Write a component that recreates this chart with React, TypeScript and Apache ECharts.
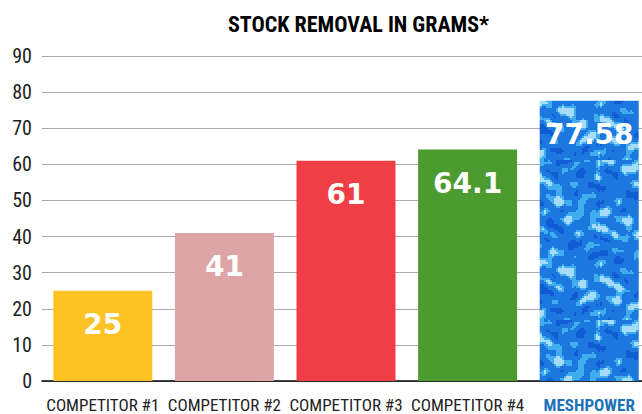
import React, { useEffect, useRef } from "react";
import * as echarts from "echarts";

const categories = ["COMPETITOR #1", "COMPETITOR #2", "COMPETITOR #3", "COMPETITOR #4", "MESHPOWER"];
const values = [25, 41, 61, 64.1, 77.58];
const labels = ["25", "41", "61", "64.1", "77.58"];
const barColors = ["#FDC325", "#DDA5A5", "#EF3E45", "#4B9B30"];
const yTicks = { min: 0, max: 90, interval: 10 };

const COND = "'Roboto Condensed', 'Open Sans Condensed', sans-serif";

function makeTexture(): HTMLCanvasElement {
  const c = document.createElement("canvas");
  c.width = 120;
  c.height = 160;
  const ctx = c.getContext("2d")!;
  ctx.fillStyle = "#1C78DE";
  ctx.fillRect(0, 0, 120, 160);
  for (let y = 0; y < 160; y += 2) {
    for (let x = 0; x < 120; x += 2) {
      const v =
        Math.sin(x * 0.21 + Math.sin(y * 0.13) * 2.5) +
        Math.sin(y * 0.37 + Math.cos(x * 0.11) * 1.7) * 0.9 +
        Math.sin((x * 0.7 - y) * 0.09) * 0.8 +
        Math.cos(x * 0.53 + y * 0.07) * 0.4;
      if (v > 1.6) {
        ctx.fillStyle = "rgba(200,245,255,0.8)";
        ctx.fillRect(x, y, 2, 2);
      } else if (v > 0.7) {
        ctx.fillStyle = "rgba(80,195,245,0.7)";
        ctx.fillRect(x, y, 2, 2);
      } else if (v < -1.6) {
        ctx.fillStyle = "rgba(15,85,210,0.8)";
        ctx.fillRect(x, y, 2, 2);
      }
    }
  }
  return c;
}

export default function App() {
  const ref = useRef<HTMLDivElement>(null);
  useEffect(() => {
    if (!ref.current) return;
    const chart = echarts.init(ref.current, null, { renderer: "svg" });
    const tex = makeTexture();
    const data = values.map((v, i) => ({
      value: v,
      itemStyle: {
        color: i < barColors.length ? barColors[i] : { image: tex, repeat: "repeat" },
      },
    }));
    chart.setOption({
      animation: false,
      title: {
        text: "STOCK REMOVAL IN GRAMS*",
        left: 223,
        top: 8,
        textStyle: {
          fontFamily: COND,
          fontWeight: "bold",
          fontSize: 22,
          color: "#000",
        },
      },
      grid: { left: 42, right: 10, top: 56, bottom: 33, containLabel: false },
      xAxis: {
        type: "category",
        data: categories,
        axisLine: { lineStyle: { color: "#000", width: 1.5 } },
        axisTick: { show: false },
        axisLabel: {
          interval: 0,
          margin: 15,
          fontFamily: COND,
          fontSize: 17,
          color: "#222",
          formatter: (v: string) => (v === "MESHPOWER" ? "{b|" + v + "}" : v),
          rich: {
            b: {
              fontFamily: COND,
              fontSize: 17,
              fontWeight: "bold",
              color: "#1E72BA",
            },
          },
        },
      },
      yAxis: {
        type: "value",
        min: yTicks.min,
        max: yTicks.max,
        interval: yTicks.interval,
        axisLine: { show: false },
        axisTick: { show: false },
        splitLine: { lineStyle: { color: "#aaa", width: 1 } },
        axisLabel: {
          margin: 10,
          fontFamily: COND,
          fontSize: 20,
          color: "#222",
        },
      },
      series: [
        {
          type: "bar",
          data,
          barWidth: 99,
          label: {
            show: true,
            position: "insideTop",
            distance: 20,
            formatter: (p: any) => labels[p.dataIndex],
            fontFamily: "'DejaVu Sans', sans-serif",
            fontWeight: "bold",
            fontSize: 28,
            color: "#fff",
          },
        },
      ],
    });
    return () => chart.dispose();
  }, []);
  return (
    <div style={{ width: 642, height: 414, position: "absolute", left: 0, top: 0, overflow: "hidden" }}>
      <div ref={ref} style={{ width: 660, height: 414 }} />
    </div>
  );
}
